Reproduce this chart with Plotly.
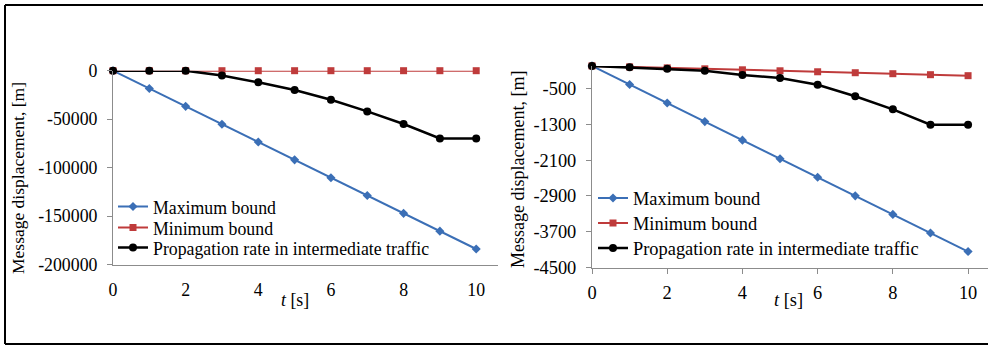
import plotly.graph_objects as go

# Time axis [s]
t = [0, 1, 2, 3, 4, 5, 6, 7, 8, 9, 10]

# Left panel: message displacement [m]
left_max = [0, -18400, -36800, -55200, -73600, -92000, -110400, -128800, -147200, -165600, -184000]
left_min = [0, 0, 0, 0, 0, 0, 0, 0, 0, 0, 0]
left_prop = [0, 0, 0, -5000, -12000, -20000, -30000, -42000, -55000, -70000, -70000]

# Right panel: message displacement [m]
right_max = [0, -414, -828, -1242, -1656, -2070, -2484, -2898, -3312, -3726, -4140]
right_min = [0, -22, -44, -65, -87, -109, -131, -152, -174, -196, -218]
right_prop = [0, -31, -62, -107, -203, -270, -419, -678, -968, -1311, -1311]

series_names = ["Maximum bound", "Minimum bound", "Propagation rate in intermediate traffic"]

left_yticks = [0, -50000, -100000, -150000, -200000]
left_yticklabels = ["0", "-50000", "-100000", "-150000", "-200000"]
right_yticks = [-500, -1300, -2100, -2900, -3700, -4500]
right_yticklabels = ["-500", "-1300", "-2100", "-2900", "-3700", "-4500"]
xticks = [0, 2, 4, 6, 8, 10]

W, H = 988, 346
FONT = "'Liberation Serif', 'Times New Roman', Times, serif"
BLUE = "#3b6fb6"
RED = "#bf3b3b"
BLACK = "#000000"
AXIS_GREY = "#8c8c8c"
FS_LEFT, FS_RIGHT = 17.8, 18.4


def px_x(x):
    return x / W


def px_y(y):
    return 1 - y / H


styles = [
    dict(color=BLUE, symbol="diamond", size=7, width=2),
    dict(color=RED, symbol="square", size=7, width=2),
    dict(color=BLACK, symbol="circle", size=8, width=2.5),
]

fig = go.Figure()

panels = [
    ("x", "y", [left_max, left_min, left_prop], ["legend", "legend2", "legend3"]),
    ("x2", "y2", [right_max, right_min, right_prop], ["legend4", "legend5", "legend6"]),
]
for xa, ya, data, legends in panels:
    for vals, name, st, lg in zip(data, series_names, styles, legends):
        fig.add_trace(go.Scatter(
            x=t, y=vals, name=name, mode="lines+markers", showlegend=True,
            xaxis=xa, yaxis=ya, legend=lg, cliponaxis=False,
            line=dict(color=st["color"], width=st["width"]),
            marker=dict(color=st["color"], symbol=st["symbol"], size=st["size"]),
        ))


def tick_font(size):
    return dict(family=FONT, size=size, color="black")


common_x = dict(showgrid=False, zeroline=False, showline=True, linecolor=AXIS_GREY,
                linewidth=1, tickvals=xticks, fixedrange=True, automargin=False)
common_y = dict(showgrid=False, zeroline=False, showline=True, linecolor=AXIS_GREY,
                linewidth=1, ticks="outside", ticklen=5, tickcolor=AXIS_GREY,
                fixedrange=True, automargin=False)

fig.update_layout(
    width=W, height=H,
    margin=dict(l=0, r=0, t=0, b=0, pad=0, autoexpand=False),
    showlegend=True,
    paper_bgcolor="white", plot_bgcolor="white",
    font=dict(family=FONT, color="black"),
    xaxis=dict(common_x, domain=[px_x(113), px_x(498)], range=[0, 10.6],
               anchor="y", ticks="", ticklabelstandoff=9, tickfont=tick_font(FS_LEFT)),
    yaxis=dict(common_y, domain=[px_y(264.5), px_y(70.7)], range=[-200000, 0],
               anchor="x", tickvals=left_yticks, ticktext=left_yticklabels,
               ticklabelstandoff=6, tickfont=tick_font(FS_LEFT)),
    xaxis2=dict(common_x, domain=[px_x(592), 1.0], range=[0, 10.53],
                anchor="y2", ticks="outside", ticklen=5, tickcolor=AXIS_GREY,
                ticklabelstandoff=3, tickfont=tick_font(FS_RIGHT)),
    yaxis2=dict(common_y, domain=[px_y(267.7), px_y(65.9)], range=[-4500, 0],
                anchor="x2", tickvals=right_yticks, ticktext=right_yticklabels,
                ticklabelstandoff=6, tickfont=tick_font(FS_RIGHT)),
)

# One legend per entry so each row sits at its own height
legend_rows = [
    ("legend", 113, 207, FS_LEFT), ("legend2", 113, 228, FS_LEFT), ("legend3", 113, 248, FS_LEFT),
    ("legend4", 593, 198, FS_RIGHT), ("legend5", 593, 223, FS_RIGHT), ("legend6", 593, 248, FS_RIGHT),
]
for key, lx, ly, fs in legend_rows:
    fig.update_layout({key: dict(x=px_x(lx), y=px_y(ly), xanchor="left", yanchor="middle",
                                 xref="paper", yref="paper", bgcolor="rgba(0,0,0,0)",
                                 borderwidth=0, font=dict(family=FONT, size=fs, color="black"))})

# Axis titles
annos = [
    dict(x=px_x(295), y=px_y(300), text="<i>t</i> [s]", font=dict(size=FS_LEFT)),
    dict(x=px_x(788), y=px_y(300), text="<i>t</i> [s]", font=dict(size=FS_RIGHT)),
    dict(x=px_x(18), y=px_y(178), text="Message displacement, [m]", textangle=-90,
         font=dict(size=17.5)),
    dict(x=px_x(518), y=px_y(170), text="Message displacement, [m]", textangle=-90,
         font=dict(size=18)),
]
for a in annos:
    a.update(xref="paper", yref="paper", showarrow=False, xanchor="center", yanchor="middle")
    a["font"].update(family=FONT, color="black")
    fig.add_annotation(**a)

# Outer frame
frame = dict(type="line", xref="paper", yref="paper", line=dict(color="black", width=2))
fig.add_shape(frame, x0=px_x(5), y0=px_y(5), x1=px_x(983), y1=px_y(5))
fig.add_shape(frame, x0=px_x(5), y0=px_y(5), x1=px_x(5), y1=px_y(344))
fig.add_shape(frame, x0=px_x(5), y0=px_y(344), x1=1.0, y1=px_y(344))

fig.write_html("out.html")
